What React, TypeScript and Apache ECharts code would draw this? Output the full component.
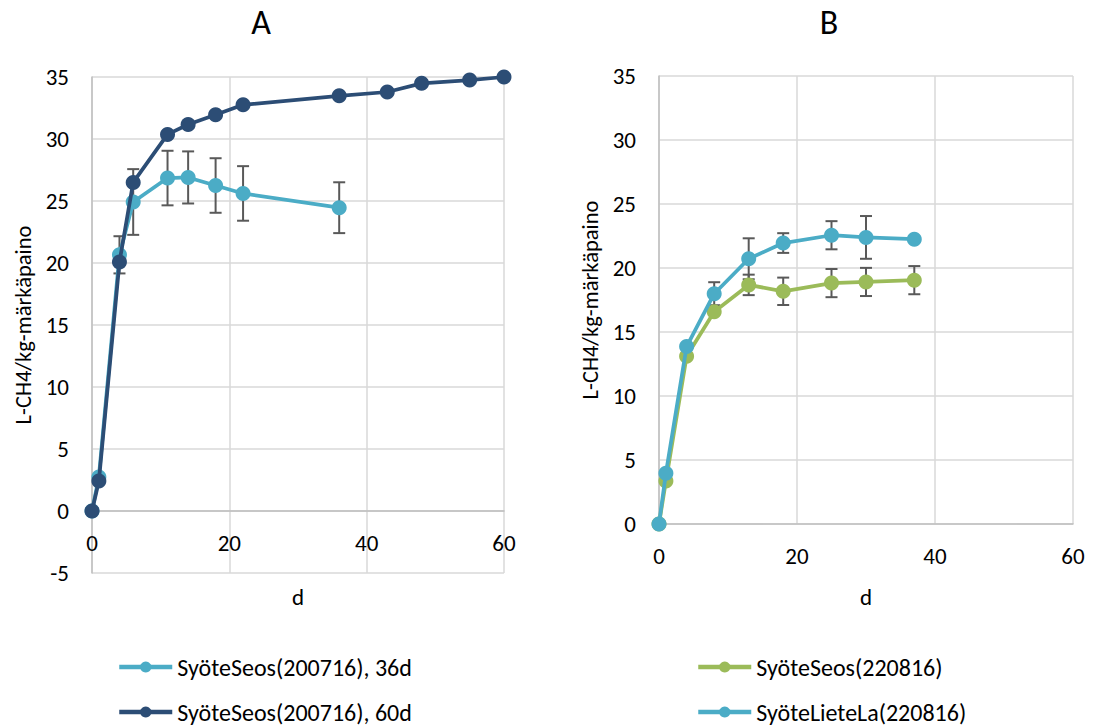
import React, { useEffect, useRef } from "react";
import * as echarts from "echarts";

// Panel A: SyöteSeos(200716), 36 d and 60 d runs
const daysA36 = [0, 1, 4, 6, 11, 14, 18, 22, 36];
const seos36 = [0, 2.74, 20.66, 24.92, 26.85, 26.9, 26.25, 25.61, 24.46];
const seos36Err = [0, 0, 1.5, 2.65, 2.2, 2.1, 2.2, 2.2, 2.05];
const daysA60 = [0, 1, 4, 6, 11, 14, 18, 22, 36, 43, 48, 55, 60];
const seos60 = [0, 2.42, 20.08, 26.5, 30.37, 31.17, 31.95, 32.76, 33.48, 33.79, 34.49, 34.75, 35.0];

// Panel B: SyöteSeos(220816) and SyöteLieteLa(220816)
const daysB = [0, 1, 4, 8, 13, 18, 25, 30, 37];
const seosB = [0, 3.35, 13.1, 16.59, 18.68, 18.18, 18.82, 18.91, 19.05];
const seosBErr = [0, 0, 0, 0, 0.8, 1.07, 1.1, 1.1, 1.1];
const lieteB = [0, 3.96, 13.86, 17.99, 20.72, 21.95, 22.56, 22.39, 22.25];
const lieteBErr = [0, 0, 0, 0.9, 1.6, 0.77, 1.1, 1.67, 0];

const nameA36 = "SyöteSeos(200716), 36d";
const nameA60 = "SyöteSeos(200716), 60d";
const nameB1 = "SyöteSeos(220816)";
const nameB2 = "SyöteLieteLa(220816)";

const xTicks = { min: 0, max: 60, interval: 20 };
const yTitle = "L-CH4/kg-märkäpaino";

const LIGHT = "#4BACC6";
const DARK = "#2C4D75";
const GREEN = "#9BBB59";
const FONT = "Carlito, Calibri, 'Open Sans', sans-serif";

const pairs = (xs: number[], ys: number[]) => xs.map((x, i) => [x, ys[i]]);
const errRows = (xs: number[], ys: number[], es: number[]) =>
  xs
    .map((x, i) => [x, ys[i] - es[i], ys[i] + es[i], es[i]])
    .filter((r) => r[3] > 0);

function errorSeries(data: number[][], axisIndex: number) {
  return {
    type: "custom",
    xAxisIndex: axisIndex,
    yAxisIndex: axisIndex,
    z: 3,
    silent: true,
    data,
    renderItem: (params: any, api: any) => {
      const x = api.value(0);
      const lo = api.coord([x, api.value(1)]);
      const hi = api.coord([x, api.value(2)]);
      const w = 6;
      const style = { stroke: "#595959", lineWidth: 2 };
      return {
        type: "group",
        children: [
          { type: "line", shape: { x1: lo[0], y1: lo[1], x2: hi[0], y2: hi[1] }, style },
          { type: "line", shape: { x1: lo[0] - w, y1: lo[1], x2: lo[0] + w, y2: lo[1] }, style },
          { type: "line", shape: { x1: hi[0] - w, y1: hi[1], x2: hi[0] + w, y2: hi[1] }, style },
        ],
      };
    },
  };
}

function lineSeries(name: string, data: number[][], color: string, axisIndex: number, z: number) {
  return {
    name,
    type: "line",
    xAxisIndex: axisIndex,
    yAxisIndex: axisIndex,
    data,
    z,
    symbol: "circle",
    symbolSize: 15,
    color,
    lineStyle: { width: 3.75, color },
    itemStyle: { color },
  };
}

function xAxis(gridIndex: number, labelMargin: number, nameGap: number) {
  return {
    type: "value",
    gridIndex,
    ...xTicks,
    name: "d",
    nameLocation: "middle",
    nameGap,
    nameTextStyle: { fontSize: 23, color: "#000", fontFamily: FONT },
    axisLine: { show: true, onZero: true, lineStyle: { color: "#BFBFBF", width: 1.5 } },
    axisTick: { show: false },
    axisLabel: { fontSize: 23, color: "#000", margin: labelMargin, fontFamily: FONT },
    splitLine: { show: true, lineStyle: { color: "#D9D9D9", width: 1.5 } },
  };
}

function yAxis(gridIndex: number, min: number, nameGap: number) {
  return {
    type: "value",
    gridIndex,
    min,
    max: 35,
    interval: 5,
    name: yTitle,
    nameLocation: "middle",
    nameGap,
    nameTextStyle: { fontSize: 22.5, color: "#000", fontFamily: FONT },
    axisLine: { show: true, lineStyle: { color: "#BFBFBF", width: 1.5 } },
    axisTick: { show: false },
    axisLabel: { fontSize: 23, color: "#000", margin: 23, fontFamily: FONT },
    splitLine: { show: true, lineStyle: { color: "#D9D9D9", width: 1.5 } },
  };
}

function legend(name: string, left: number, top: number) {
  return {
    left,
    top,
    padding: 0,
    data: [name],
    itemWidth: 53,
    itemHeight: 14,
    selectedMode: false,
    lineStyle: { width: 4.5 },
    textStyle: { fontSize: 24, color: "#000", fontFamily: FONT },
  };
}

export default function App() {
  const ref = useRef<HTMLDivElement>(null);

  useEffect(() => {
    if (!ref.current) return;
    const chart = echarts.init(ref.current, null, { renderer: "svg" });
    chart.setOption({
      animation: false,
      backgroundColor: "#fff",
      textStyle: { fontFamily: FONT },
      graphic: [
        { type: "text", x: 261, y: 22, style: { text: "A", fontSize: 34, fill: "#000", fontFamily: FONT, textAlign: "center", textVerticalAlign: "middle" } },
        { type: "text", x: 829, y: 22, style: { text: "B", fontSize: 34, fill: "#000", fontFamily: FONT, textAlign: "center", textVerticalAlign: "middle" } },
      ],
      grid: [
        { left: 92, top: 77, width: 412, height: 496 },
        { left: 659, top: 76, width: 414, height: 448 },
      ],
      xAxis: [xAxis(0, -42, 12), xAxis(1, 20, 61)],
      yAxis: [yAxis(0, -5, 57), yAxis(1, 0, 57)],
      legend: [
        legend(nameA36, 117, 655),
        legend(nameA60, 117, 700),
        legend(nameB1, 696, 655),
        legend(nameB2, 696, 700),
      ],
      series: [
        lineSeries(nameA36, pairs(daysA36, seos36), LIGHT, 0, 4),
        errorSeries(errRows(daysA36, seos36, seos36Err), 0),
        lineSeries(nameA60, pairs(daysA60, seos60), DARK, 0, 5),
        lineSeries(nameB1, pairs(daysB, seosB), GREEN, 1, 4),
        errorSeries(errRows(daysB, seosB, seosBErr), 1),
        lineSeries(nameB2, pairs(daysB, lieteB), LIGHT, 1, 5),
        errorSeries(errRows(daysB, lieteB, lieteBErr), 1),
      ],
    });
    return () => chart.dispose();
  }, []);

  return (
    <div
      ref={ref}
      style={{ position: "fixed", left: 0, top: 0, width: 1095, height: 725, background: "#fff" }}
    />
  );
}
